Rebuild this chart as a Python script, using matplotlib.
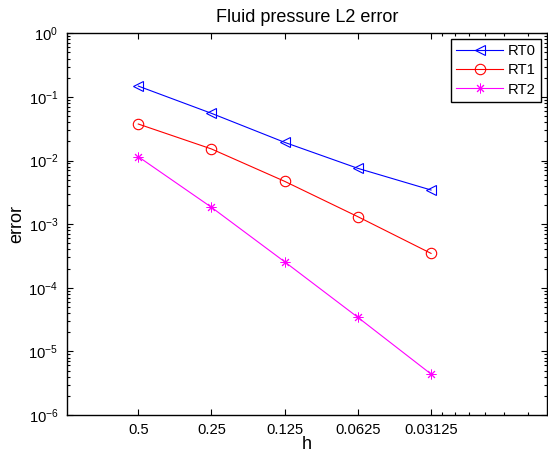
import matplotlib
matplotlib.use('Agg')
from matplotlib import pyplot as plt
from matplotlib.ticker import FixedLocator, FixedFormatter, NullFormatter, LogLocator

plt.rcParams['font.family'] = ['Liberation Sans', 'DejaVu Sans']
plt.rcParams['mathtext.fontset'] = 'custom'
plt.rcParams['mathtext.rm'] = 'Liberation Sans'
plt.rcParams['mathtext.default'] = 'regular'

# data
h = [0.5, 0.25, 0.125, 0.0625, 0.03125]
h_labels = ['0.5', '0.25', '0.125', '0.0625', '0.03125']
err_rt0 = [0.148, 0.0552, 0.0193, 0.00754, 0.00344]
err_rt1 = [0.0375, 0.0152, 0.00471, 0.00131, 0.000347]
err_rt2 = [0.0115, 0.00184, 0.000256, 3.43e-5, 4.4e-6]
y_decades = [1e-6, 1e-5, 1e-4, 1e-3, 1e-2, 1e-1, 1e0]

fig = plt.figure(figsize=(5.48, 4.58), dpi=100)
ax = fig.add_axes([66.7/548, 1 - 415/458, (546.7 - 66.7)/548, (415 - 33.3)/458])

ax.loglog(h, err_rt0, '-', color='b', lw=0.8, marker='<', ms=7.5, mfc='none', mew=0.8, label='RT0')
ax.loglog(h, err_rt1, '-', color='r', lw=0.8, marker='o', ms=7.5, mfc='none', mew=0.8, label='RT1')
ax.loglog(h, err_rt2, '-', color='magenta', lw=0.8, marker=(8, 2, 0), ms=7, mew=0.7, label='RT2')

ax.set_xlim(0.985, 0.01045)
ax.set_ylim(1e-6, 1)

ax.xaxis.set_major_locator(FixedLocator(h))
ax.xaxis.set_major_formatter(FixedFormatter(h_labels))
ax.xaxis.set_minor_locator(FixedLocator([0.03125 * f for f in [0.9, 0.8, 0.7, 0.6, 0.5, 0.4]]))
ax.xaxis.set_minor_formatter(NullFormatter())
ax.yaxis.set_major_locator(FixedLocator(y_decades))
ax.yaxis.set_minor_locator(LogLocator(base=10, subs=range(2, 10), numticks=10))
ax.yaxis.set_minor_formatter(NullFormatter())

ax.tick_params(which='both', direction='in', top=True, right=True, labelsize=10.6, width=0.8)
ax.tick_params(which='major', length=4, pad=6)
ax.tick_params(which='minor', length=2)
for s in ax.spines.values():
    s.set_linewidth(1.0)

ax.set_title('Fluid pressure L2 error', fontsize=13, pad=8)
ax.set_xlabel('h', fontsize=13, labelpad=-1)
ax.set_ylabel('error', fontsize=13, labelpad=2)

leg = ax.legend(loc='upper right', fontsize=10.6, fancybox=False, edgecolor='k', framealpha=1,
                handlelength=3.2, handletextpad=0.3, labelspacing=0.35, borderaxespad=0.4,
                borderpad=0.35)
leg.get_frame().set_linewidth(1.0)

fig.savefig('out.png', dpi=100)
